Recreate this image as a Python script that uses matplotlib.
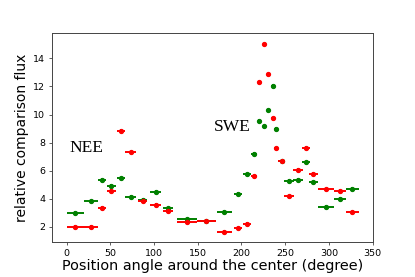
import matplotlib
matplotlib.use("Agg")
import matplotlib.pyplot as plt
import numpy as np

# position angle bins (degree) and their half widths
angle = [10, 28, 40.6, 51.3, 62, 73.3, 87, 101.8, 116, 138, 160, 180.5, 195.7, 206.4,
         214.4, 220.4, 226.1, 230.7, 235.6, 239.5, 245.8, 254.3, 264.5, 273.7, 282.3,
         296.8, 312.8, 326.8]
angle_err = [10, 8, 4.4, 5.3, 4.8, 6, 5.5, 6.7, 5.7, 11.4, 11.4, 8.7, 4.7, 4.2,
             3.4, 1.8, 1.8, 1.8, 1.8, 1.8, 3.6, 5.3, 6, 4.5, 5.3, 9, 7, 7]

# relative comparison flux
flux_swe = [3.0, 3.81, 5.35, 4.90, 5.45, 4.14, 3.9, 4.47, 3.31, 2.53, 2.43, 3.07, 4.33, 5.73,
            7.20, 9.53, 9.16, 10.30, 12.05, 8.96, 6.70, 5.26, 5.35, 6.60, 5.16,
            3.43, 4.00, 4.71]
flux_nee = [2.0, 2.0, 3.35, 4.54, 8.84, 7.30, 3.83, 3.57, 3.14, 2.36, 2.43, 1.62, 1.88, 2.19,
            5.59, 12.29, 15.0, 12.86, 9.73, 7.59, 6.70, 4.17, 6.04, 7.61, 5.76,
            4.67, 4.54, 3.03]
flux_err = 0.12

fig = plt.figure(figsize=(4.15, 2.77), dpi=100)
ax = fig.add_axes([0.1245, 0.125, 0.7735, 0.757])

ax.errorbar(angle, flux_swe, xerr=angle_err, yerr=flux_err, fmt='o', color='green',
            ms=2.8, elinewidth=1.4, capsize=0)
ax.errorbar(angle, flux_nee, xerr=angle_err, yerr=flux_err, fmt='o', color='red',
            ms=2.8, elinewidth=1.4, capsize=0)

ax.text(3.8, 7.59, 'NEE', family='Liberation Serif', fontsize=12.5, va='center')
ax.text(168, 9.08, 'SWE', family='Liberation Serif', fontsize=12.5, va='center')

ax.set_xlim(-17, 349.5)
ax.set_ylim(0.89, 15.83)
ax.set_xticks(np.arange(0, 351, 50))
ax.set_yticks(np.arange(2, 15, 2))
ax.tick_params(labelsize=6.8, length=2.5, width=0.6, pad=2, color='#444444')
for s in ax.spines.values():
    s.set_linewidth(0.7)
    s.set_color('#444444')
ax.set_xlabel('Position angle around the center (degree)', fontsize=10.4, labelpad=1)
ax.set_ylabel('relative comparison flux', fontsize=10, labelpad=3)

fig.savefig('out.png', dpi=100)
